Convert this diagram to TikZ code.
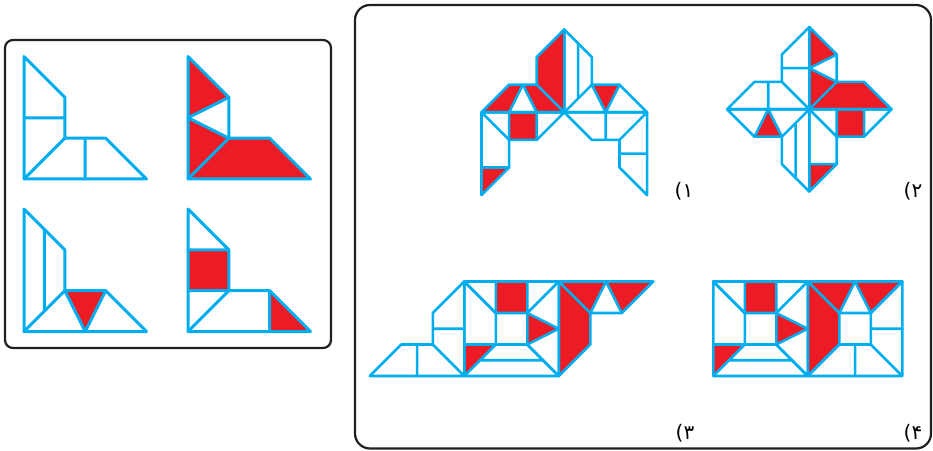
\documentclass[tikz,border=0pt]{standalone}
\usepackage{fontspec}
\newfontfamily\arabicfont[Script=Arabic]{DejaVu Sans}
\definecolor{tileblue}{RGB}{0,174,239}
\definecolor{tilered}{RGB}{237,28,36}
\definecolor{framegray}{RGB}{35,31,32}

\begin{document}
\begin{tikzpicture}[x=1pt, y=1pt,
        piece/.style={draw=tileblue, line width=2.6pt, line join=round, line cap=round},
        redpart/.style={fill=tilered},
        panel/.style={draw=framegray, line width=2.2pt},
        numlabel/.style={font=\arabicfont\fontsize{20}{22}\selectfont, inner sep=0pt}
    ]
    \useasboundingbox (0,0) rectangle (933,450);

    % Frames
    \draw[panel, rounded corners=8pt] (5,102) rectangle (331,410);
    \draw[panel, rounded corners=15pt] (355,1.5) rectangle (931,445);

    % Pieces
    \begin{scope}[shift={(24pt,271pt)}, x=40.8pt, y=40.8pt, piece/.append style={line width=3pt}]
        \draw[piece] (0,0) -- (0,3) -- (1,2) -- (1,1) -- (2,1) -- (3,0) -- cycle;
        \draw[piece] (0,1.5) -- (1,1.5) (0,0) -- (1,1) (1.5,1) -- (1.5,0);
    \end{scope}
    \begin{scope}[shift={(188pt,271pt)}, x=40.8pt, y=40.8pt, piece/.append style={line width=3pt}]
        \fill[redpart] (0,3) -- (1,2) -- (0,1.5) -- cycle;
        \fill[redpart] (0,1.5) -- (1,1) -- (0,0) -- cycle;
        \fill[redpart] (0,0) -- (1,1) -- (2,1) -- (3,0) -- cycle;
        \draw[piece] (0,0) -- (0,3) -- (1,2) -- (1,1) -- (2,1) -- (3,0) -- cycle;
        \draw[piece] (1,2) -- (0,1.5) -- (1,1) (0,0) -- (1,1);
    \end{scope}
    \begin{scope}[shift={(24pt,118.5pt)}, x=40.8pt, y=40.8pt, piece/.append style={line width=3pt}]
        \fill[redpart] (1,1) -- (2,1) -- (1.5,0) -- cycle;
        \draw[piece] (0,0) -- (0,3) -- (1,2) -- (1,1) -- (2,1) -- (3,0) -- cycle;
        \draw[piece] (0.5,2.5) -- (0.5,0.5) (0,0) -- (1,1) (1,1) -- (1.5,0) -- (2,1);
    \end{scope}
    \begin{scope}[shift={(188pt,118.5pt)}, x=40.8pt, y=40.8pt, piece/.append style={line width=3pt}]
        \fill[redpart] (0,1) rectangle (1,2);
        \fill[redpart] (2,1) -- (3,0) -- (2,0) -- cycle;
        \draw[piece] (0,0) -- (0,3) -- (1,2) -- (1,1) -- (2,1) -- (3,0) -- cycle;
        \draw[piece] (0,2) -- (1,2) (0,1) -- (1,1) (0,0) -- (1,1) (2,1) -- (2,0);
    \end{scope}

    % Option 1
    \begin{scope}[shift={(564.3pt,337.7pt)}, x=27.6pt, y=27.6pt]
        \fill[redpart] (0,3) -- (-1,2) -- (-1,1) -- (0,0) -- cycle;
        \fill[redpart] (-3,0) -- (-2,1) -- (-1.5,1) -- (-2,0) -- cycle;
        \fill[redpart] (-1.5,1) -- (-1,1) -- (0,0) -- (-1,0) -- cycle;
        \fill[redpart] (1,1) -- (2,1) -- (1.5,0) -- cycle;
        \fill[redpart] (-2,-1) rectangle (-1,0);
        \fill[redpart] (-2,-2) -- (-3,-3) -- (-3,-2) -- cycle;
        % top left
        \draw[piece] (0,0) -- (0,3) -- (-1,2) -- (-1,1) -- (-2,1) -- (-3,0) -- cycle;
        \draw[piece] (-1,1) -- (0,0) (-2,0) -- (-1.5,1) -- (-1,0);
        % top right
        \draw[piece] (0,0) -- (0,3) -- (1,2) -- (1,1) -- (2,1) -- (3,0) -- cycle;
        \draw[piece] (0.5,2.5) -- (0.5,0.5) (0,0) -- (1,1) (1,1) -- (1.5,0) -- (2,1);
        % bottom left
        \draw[piece] (-3,0) -- (0,0) -- (-1,-1) -- (-2,-1) -- (-2,-2) -- (-3,-3) -- cycle;
        \draw[piece] (-1,0) -- (-1,-1) (-2,0) -- (-2,-1) (-3,0) -- (-2,-1) (-3,-2) -- (-2,-2);
        % bottom right
        \draw[piece] (3,0) -- (3,-3) -- (2,-2) -- (2,-1) -- (1,-1) -- (0,0) -- cycle;
        \draw[piece] (3,-1.5) -- (2,-1.5) (3,0) -- (2,-1) (1.5,-1) -- (1.5,0);
    \end{scope}

    % Option 2
    \begin{scope}[shift={(809.3pt,340.7pt)}, x=27.4pt, y=27.4pt]
        \fill[redpart] (0,3) -- (1,2) -- (0,1.5) -- cycle;
        \fill[redpart] (0,1.5) -- (1,1) -- (0,0) -- cycle;
        \fill[redpart] (0,0) -- (1,1) -- (2,1) -- (3,0) -- cycle;
        \fill[redpart] (-1,-1) -- (-2,-1) -- (-1.5,0) -- cycle;
        \fill[redpart] (1,-1) rectangle (2,0);
        \fill[redpart] (1,-2) -- (0,-3) -- (0,-2) -- cycle;
        % top right
        \draw[piece] (0,0) -- (0,3) -- (1,2) -- (1,1) -- (2,1) -- (3,0) -- cycle;
        \draw[piece] (1,2) -- (0,1.5) -- (1,1) (0,0) -- (1,1);
        % top left
        \draw[piece] (0,0) -- (0,3) -- (-1,2) -- (-1,1) -- (-2,1) -- (-3,0) -- cycle;
        \draw[piece] (0,1.5) -- (-1,1.5) (0,0) -- (-1,1) (-1.5,1) -- (-1.5,0);
        % bottom left
        \draw[piece] (0,0) -- (0,-3) -- (-1,-2) -- (-1,-1) -- (-2,-1) -- (-3,0) -- cycle;
        \draw[piece] (-0.5,-2.5) -- (-0.5,-0.5) (0,0) -- (-1,-1) (-1,-1) -- (-1.5,0) -- (-2,-1);
        % bottom right
        \draw[piece] (0,0) -- (3,0) -- (2,-1) -- (1,-1) -- (1,-2) -- (0,-3) -- cycle;
        \draw[piece] (2,0) -- (2,-1) (1,0) -- (1,-1) (0,0) -- (1,-1) (0,-2) -- (1,-2);
    \end{scope}

    % Option 3
    \begin{scope}[shift={(464.3pt,74pt)}, x=31.5pt, y=31.5pt]
        \fill[redpart] (0,0) -- (0,1) -- (1,1) -- cycle;
        \fill[redpart] (1,2) rectangle (2,3);
        \fill[redpart] (2,2) -- (3,1.5) -- (2,1) -- cycle;
        \fill[redpart] (3,3) -- (4,2) -- (4,1) -- (3,0) -- cycle;
        \fill[redpart] (6,3) -- (5,2) -- (4.5,3) -- cycle;
        \fill[redpart] (4.5,3) -- (4,2) -- (3,3) -- cycle;
        % wing
        \draw[piece] (0,0) -- (0,3) -- (-1,2) -- (-1,1) -- (-2,1) -- (-3,0) -- cycle;
        \draw[piece] (0,1.5) -- (-1,1.5) (0,0) -- (-1,1) (-1.5,1) -- (-1.5,0);
        % middle
        \draw[piece] (0,0) -- (0,3) -- (1,2) -- (1,1) -- (2,1) -- (3,0) -- cycle;
        \draw[piece] (0,1) -- (1,1) (0,0) -- (1,1) (0.5,0.5) -- (2.5,0.5);
        \draw[piece] (3,3) -- (3,0) -- (2,1) -- (2,2) -- (1,2) -- (0,3) -- cycle;
        \draw[piece] (1,2) -- (1,3) (2,2) -- (2,3) (2,2) -- (3,3) (2,2) -- (3,1.5) -- (2,1);
        % right
        \draw[piece] (3,3) -- (6,3) -- (5,2) -- (4,2) -- (4,1) -- (3,0) -- cycle;
        \draw[piece] (3,3) -- (4,2) (4.5,3) -- (4,2) (4.5,3) -- (5,2);
    \end{scope}

    % Option 4
    \begin{scope}[shift={(713.3pt,74pt)}, x=31.5pt, y=31.5pt]
        \fill[redpart] (0,0) -- (0,1) -- (1,1) -- cycle;
        \fill[redpart] (1,2) rectangle (2,3);
        \fill[redpart] (2,2) -- (3,1.5) -- (2,1) -- cycle;
        \fill[redpart] (3,3) -- (4,2) -- (4,1) -- (3,0) -- cycle;
        \fill[redpart] (6,3) -- (5,2) -- (4.5,3) -- cycle;
        \fill[redpart] (4.5,3) -- (4,2) -- (3,3) -- cycle;
        % left
        \draw[piece] (0,0) -- (0,3) -- (1,2) -- (1,1) -- (2,1) -- (3,0) -- cycle;
        \draw[piece] (0,1) -- (1,1) (0,0) -- (1,1) (0.5,0.5) -- (2.5,0.5);
        \draw[piece] (3,3) -- (3,0) -- (2,1) -- (2,2) -- (1,2) -- (0,3) -- cycle;
        \draw[piece] (1,2) -- (1,3) (2,2) -- (2,3) (2,2) -- (3,3) (2,2) -- (3,1.5) -- (2,1);
        % right
        \draw[piece] (3,3) -- (6,3) -- (5,2) -- (4,2) -- (4,1) -- (3,0) -- cycle;
        \draw[piece] (3,3) -- (4,2) (4.5,3) -- (4,2) (4.5,3) -- (5,2);
        \draw[piece] (6,0) -- (3,0) -- (4,1) -- (5,1) -- (5,2) -- (6,3) -- cycle;
        \draw[piece] (4.5,0) -- (4.5,1) (5,1.5) -- (6,1.5) (5,1) -- (6,0);
    \end{scope}

    % Labels
    \node[numlabel] (lab1) at (684,259) {۱)};
    \node[numlabel] (lab2) at (913,259) {۲)};
    \node[numlabel] (lab3) at (685,17) {۳)};
    \node[numlabel] (lab4) at (913,17) {۴)};
\end{tikzpicture}
\end{document}
